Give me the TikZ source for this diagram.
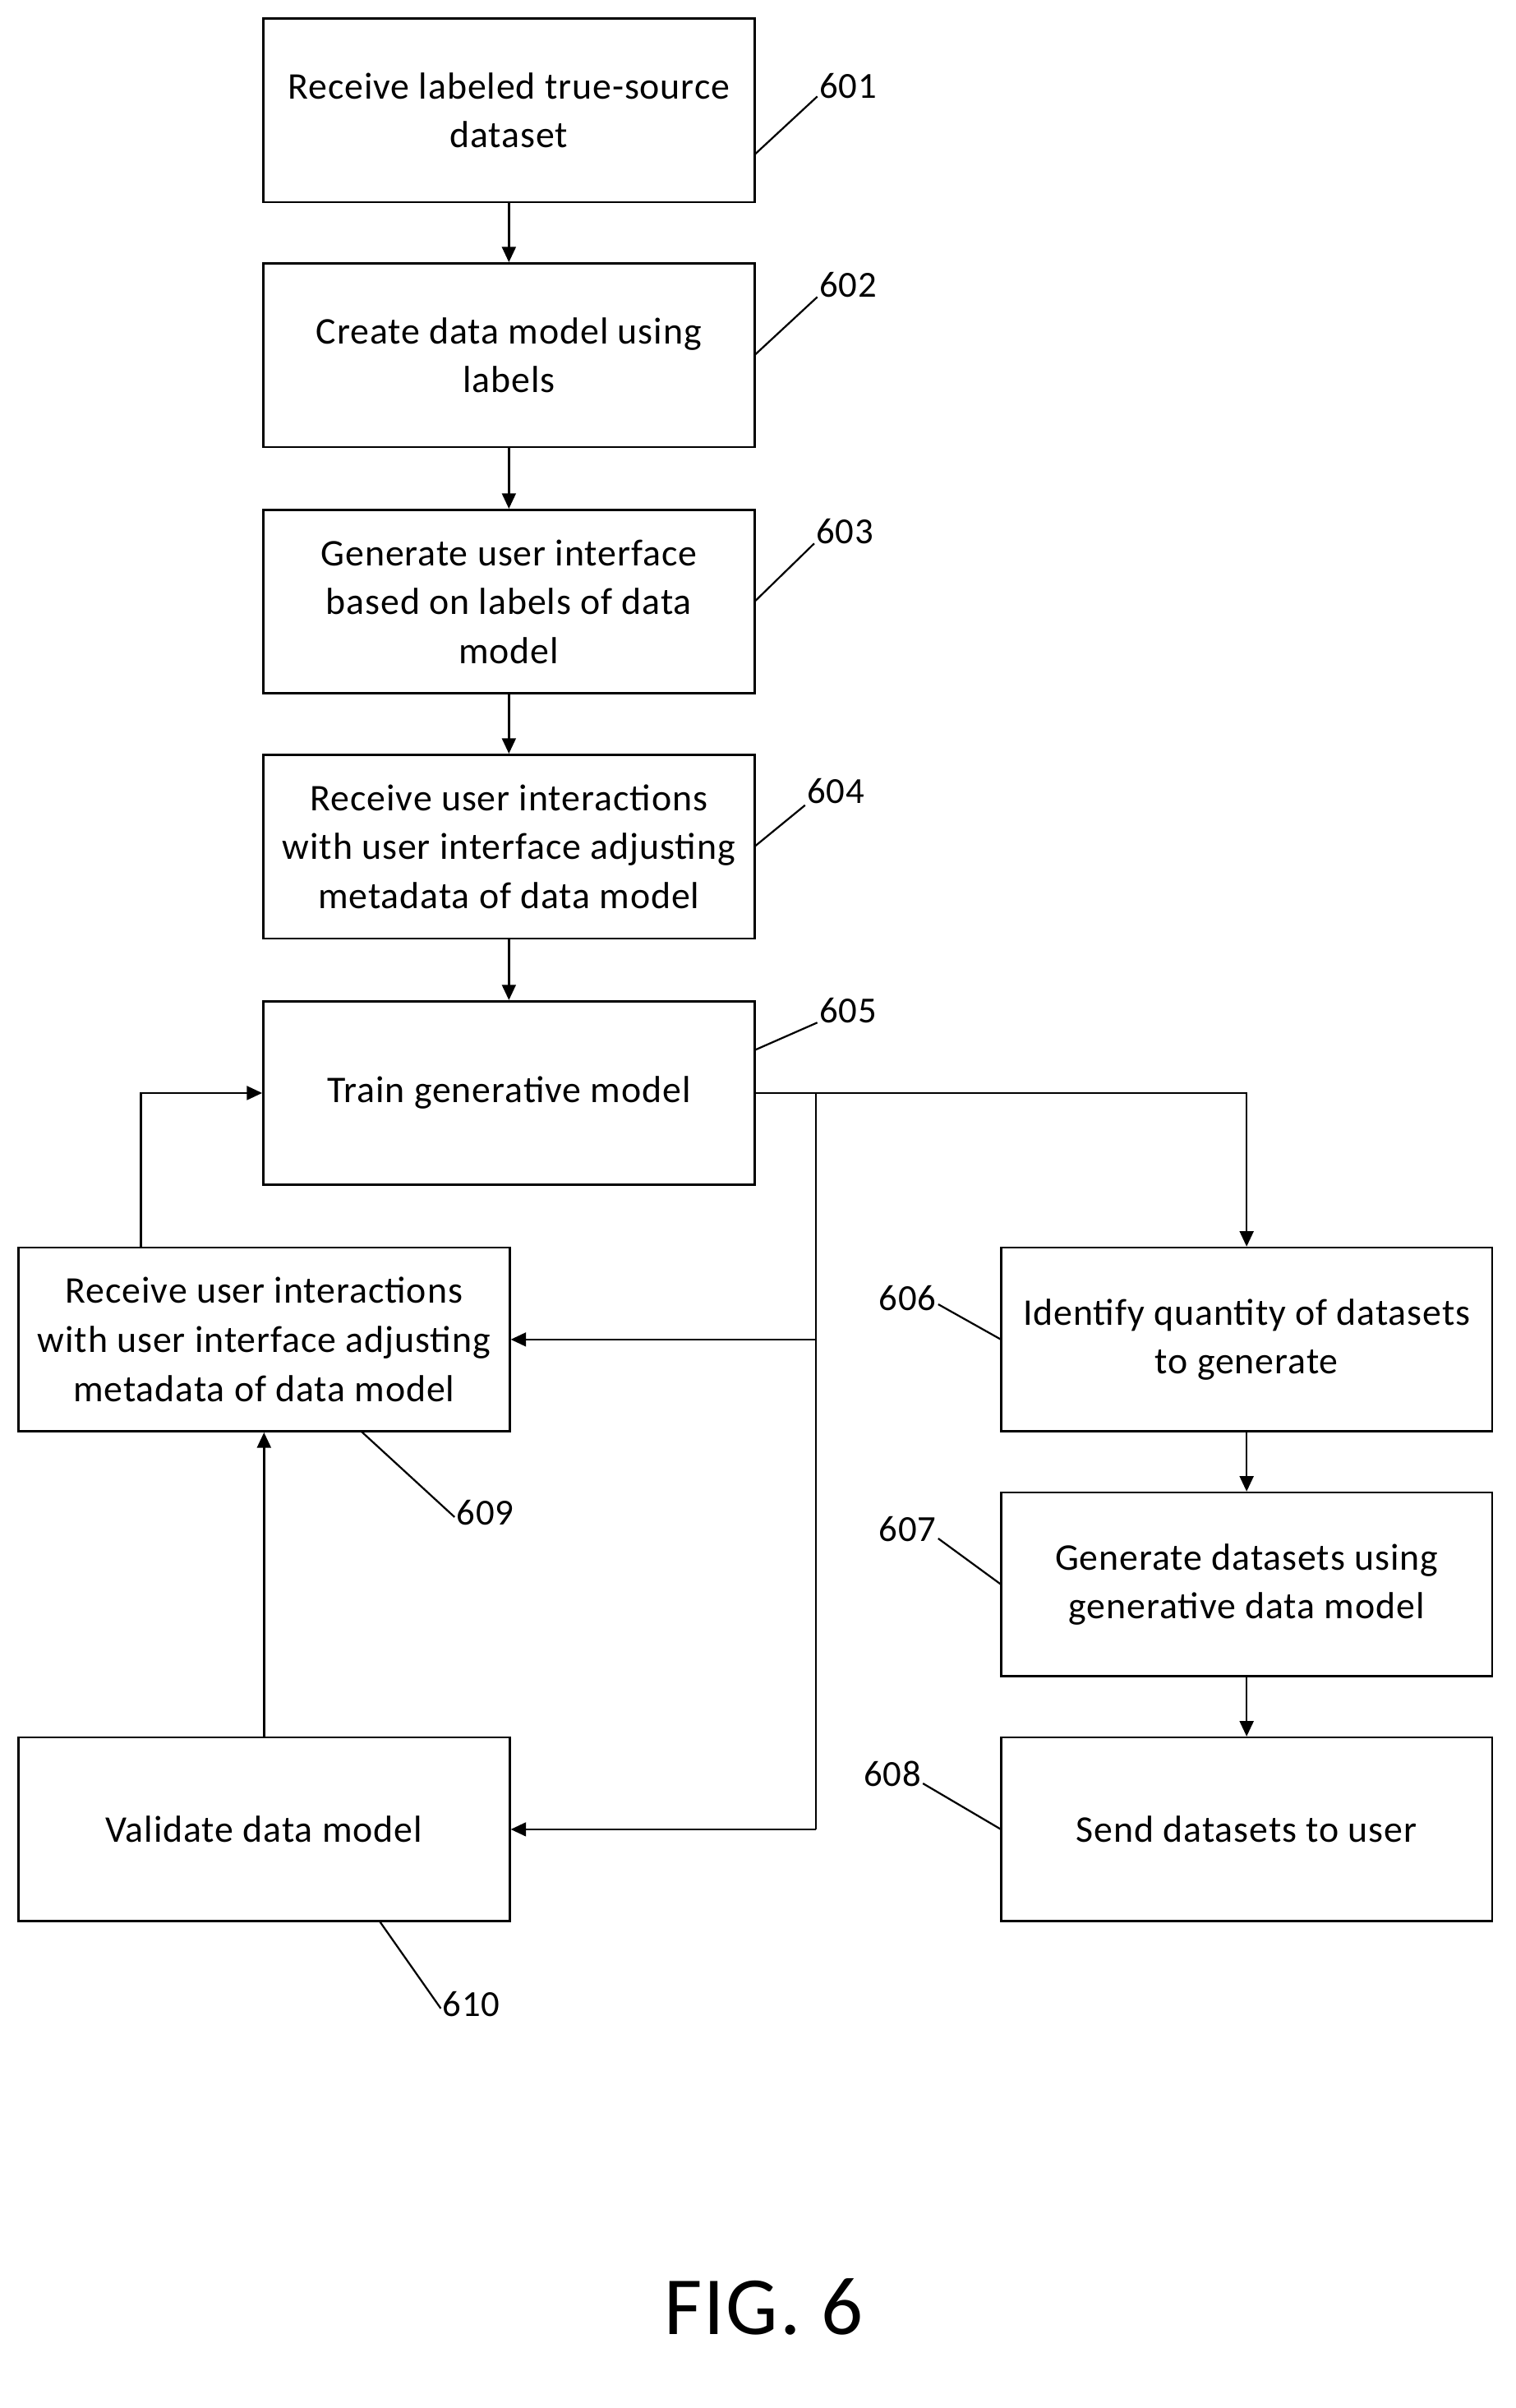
\documentclass[tikz,border=0pt]{standalone}
\usepackage{fontspec}
\setmainfont{Carlito}[LetterSpace=2]
\usetikzlibrary{arrows.meta}
\begin{document}
\begin{tikzpicture}[x=0.5pt,y=-0.5pt,
  box/.style={draw,line width=0.7pt,minimum width=160.5pt,minimum height=60pt,align=center,font=\fontsize{12.3}{16}\selectfont,inner sep=1pt},
  arr/.style={line width=0.7pt,-{Triangle[length=5pt,width=4.5pt]}},
  ln/.style={line width=0.6pt},
  lab/.style={font=\fontsize{12}{14}\selectfont,inner sep=0pt}]
\useasboundingbox (0,0) rectangle (990,1573);
\node[box] (b1) at (332.5,72) {Receive labeled true-source\\dataset};
\node[box] (b2) at (332.5,232) {Create data model using\\labels};
\node[box] (b3) at (332.5,393) {Generate user interface\\based on labels of data\\model};
\node[box] (b4) at (332.5,553) {Receive user interactions\\with user interface adjusting\\metadata of data model};
\node[box] (b5) at (332.5,714) {Train generative model};
\node[box] (b9) at (172.5,875) {Receive user interactions\\with user interface adjusting\\metadata of data model};
\node[box] (b10) at (172.5,1195) {Validate data model};
\node[box] (b6) at (814.5,875) {Identify quantity of datasets\\to generate};
\node[box] (b7) at (814.5,1035) {Generate datasets using\\generative data model};
\node[box] (b8) at (814.5,1195) {Send datasets to user};
\draw[arr] (b1) -- (b2);
\draw[arr] (b2) -- (b3);
\draw[arr] (b3) -- (b4);
\draw[arr] (b4) -- (b5);
\draw[arr] (b6) -- (b7);
\draw[arr] (b7) -- (b8);
\coordinate (j) at (533,714);
\draw[arr] (b5.east) -| (b6.north);
\draw[ln] (j) -- (533,1195);
\draw[arr] (533,875) -- (b9.east);
\draw[arr] (533,1195) -- (b10.east);
\draw[arr] (b10.north) -- (b9.south);
\draw[arr] (92,815) |- (b5.west);
% labels
\node[lab] (l1) at (554,56) {601};
\draw[ln] (493,101) -- (534,63);
\node[lab] (l2) at (554,186) {602};
\draw[ln] (493,232) -- (534,194);
\node[lab] (l3) at (552,347) {603};
\draw[ln] (493,393) -- (532,355);
\node[lab] (l4) at (546,517) {604};
\draw[ln] (493,553) -- (526,526);
\node[lab] (l5) at (554,660) {605};
\draw[ln] (493,686) -- (534,668);
\node[lab] (l6) at (593,848) {606};
\draw[ln] (613,852) -- (654,875);
\node[lab] (l7) at (593,999) {607};
\draw[ln] (613,1005) -- (654,1035);
\node[lab] (l8) at (583,1159) {608};
\draw[ln] (603,1165) -- (654,1195);
\node[lab] (l9) at (317,988) {609};
\draw[ln] (236,935) -- (297,991);
\node[lab] (l10) at (308,1309) {610};
\draw[ln] (248,1255) -- (288,1312);
\node[font=\fontsize{27}{30}\selectfont] (fig) at (499,1507) {FIG. 6};
\end{tikzpicture}
\end{document}
